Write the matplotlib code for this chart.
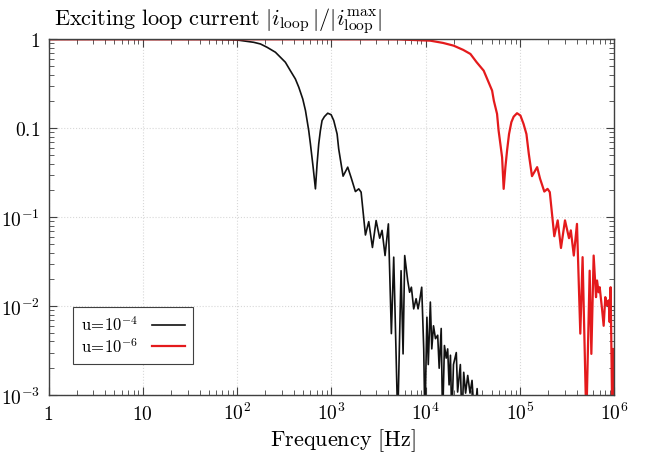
import matplotlib
matplotlib.use("Agg")
import matplotlib.pyplot as plt
from matplotlib.ticker import FixedLocator, FixedFormatter, LogLocator, NullFormatter

plt.rcParams['mathtext.fontset'] = 'cm'
plt.rcParams['font.family'] = 'DejaVu Serif'

# u = 1e-4 (black)
freq_b = [1, 10, 50, 100, 150, 177, 208, 255, 288, 325, 367, 415, 451, 497,
          531, 575, 599, 640, 677, 705, 734, 764, 796, 843, 914, 993, 1059,
          1150, 1195, 1330, 1490, 1630, 1797, 1950, 2066, 2296, 2489,
          2724, 2980, 3252, 3445, 3707, 4020, 4325, 4580, 5050, 5480, 5755,
          5990, 6440, 6750, 7050, 7460, 7910, 8300, 8630, 9070, 9530, 9800,
          10300, 10650, 11200, 11600, 12100, 12700, 13400, 13900, 14600,
          15100, 15800, 16500, 17100, 17700, 18300, 18900, 19700, 21100,
          21800, 23300, 24200, 25300, 26500, 27900, 29500, 31000, 33000,
          35100, 36500]
amp_b = [1, 1, 0.998, 0.982, 0.925, 0.886, 0.813, 0.715, 0.628, 0.552, 0.444,
         0.358, 0.289, 0.213, 0.158, 0.094, 0.0667, 0.0365, 0.0208, 0.0398,
         0.0667, 0.094, 0.122, 0.135, 0.1475, 0.142, 0.122, 0.086, 0.0585,
         0.0289, 0.0365, 0.0272, 0.0194, 0.0208, 0.0191, 0.0063, 0.0089,
         0.00456, 0.00916, 0.0058, 0.0071, 0.0037, 0.0084, 0.00049, 0.00355,
         5e-5, 0.0025, 0.00029, 0.0037, 0.00194, 0.00143, 0.00163, 0.00093,
         0.00121, 0.00093, 0.00116, 0.00163, 0.00033, 5e-5, 0.00075,
         0.00022, 0.00111, 0.00033, 0.0006, 0.00043, 0.00047, 0.0002,
         0.00056, 5e-5, 0.00036, 0.00026, 0.00033, 0.00013, 0.00028, 5e-5,
         0.00022, 0.0003, 0.000108, 0.00022, 5e-5, 0.00018, 0.000105,
         0.000166, 0.000105, 0.000146, 5e-5, 0.000118, 5e-5]

# u = 1e-6 (red)
freq_r = [1, 1000, 5000, 11200, 15300, 19800, 25000, 29800, 34700, 41200,
          44900, 50600, 52800, 57100, 59300, 61900, 64600, 67100, 70000,
          72900, 76500, 81000, 85700, 93000, 101000, 109000, 117000, 124000,
          134000, 152000, 163000, 181000, 196000, 207000, 231000, 251000,
          272000, 300000, 331000, 346000, 372000, 402000, 436000, 461000,
          505000, 548000, 571000, 604000, 640000, 656000, 682000, 700000,
          741000, 771000, 803000, 836000, 871000, 893000, 914000, 953000,
          969000, 1000000]
amp_r = [1, 1, 0.998, 0.965, 0.91, 0.848, 0.76, 0.684, 0.552, 0.444, 0.358,
         0.265, 0.204, 0.145, 0.094, 0.0667, 0.047, 0.0208, 0.0365, 0.056,
         0.086, 0.117, 0.135, 0.1475, 0.139, 0.112, 0.086, 0.0514, 0.0289,
         0.0365, 0.0272, 0.0194, 0.0208, 0.0191, 0.0061, 0.0092, 0.0045,
         0.0092, 0.0058, 0.0071, 0.0037, 0.0084, 0.00049, 0.00355, 5e-5,
         0.0025, 0.00029, 0.0037, 0.00126, 0.00194, 0.00143, 0.00163,
         0.00093, 0.0006, 0.00126, 0.00102, 0.00116, 0.00066, 0.00163, 5e-5,
         0.00033, 5e-5]

xticks = [1, 10, 1e2, 1e3, 1e4, 1e5, 1e6]
xlabels = ['$1$', '$10$', '$10^2$', '$10^3$', '$10^4$', '$10^5$', '$10^6$']
yticks = [1e-4, 1e-3, 1e-2, 1e-1, 1]
ylabels = ['$10^{-3}$', '$10^{-2}$', '$10^{-1}$', '$0.1$', '$1$']

fig = plt.figure(figsize=(6.56, 4.6), dpi=100)
ax = fig.add_axes([48.5 / 656, 1 - 396 / 460, (614.3 - 48.5) / 656, (396 - 40.3) / 460])

ax.plot(freq_b, amp_b, color='#111111', lw=1.2,
        label='$\\mathrm{u}\\!=\\!10^{-4}$')
ax.plot(freq_r, amp_r, color='#e41a1c', lw=1.6,
        label='$\\mathrm{u}\\!=\\!10^{-6}$')

ax.set_xscale('log')
ax.set_yscale('log')
ax.set_xlim(1, 1e6)
ax.set_ylim(1e-4, 1)

ax.xaxis.set_major_locator(FixedLocator(xticks))
ax.xaxis.set_major_formatter(FixedFormatter(xlabels))
ax.yaxis.set_major_locator(FixedLocator(yticks))
ax.yaxis.set_major_formatter(FixedFormatter(ylabels))
ax.xaxis.set_minor_locator(LogLocator(base=10, subs=range(2, 10), numticks=20))
ax.yaxis.set_minor_locator(LogLocator(base=10, subs=range(2, 10), numticks=20))
ax.xaxis.set_minor_formatter(NullFormatter())
ax.yaxis.set_minor_formatter(NullFormatter())

ax.tick_params(which='both', direction='in', top=True, right=True,
               color='#404040', labelsize=14)
ax.tick_params(which='major', length=6, width=0.8)
ax.tick_params(which='minor', length=3.5, width=0.6)
ax.tick_params(axis='x', pad=17)
ax.tick_params(axis='y', pad=6)
for lbl in ax.get_xticklabels():
    lbl.set_va('baseline')
for s in ax.spines.values():
    s.set_color('#404040')
    s.set_linewidth(1.0)

ax.grid(True, which='major', ls=':', color='#d8d8d8', lw=0.8)

leg = ax.legend(loc='lower left', bbox_to_anchor=(0.043, 0.087), fontsize=12,
                fancybox=False, framealpha=1, edgecolor='#404040',
                handlelength=2.0, borderpad=0.5, labelspacing=0.15,
                borderaxespad=0, handletextpad=0.8, markerfirst=False)
leg.get_frame().set_linewidth(0.8)

fig.text(54 / 656, 1 - 25 / 460,
         '$\\mathrm{Exciting\\ loop\\ current}\\ |i_{\\mathrm{loop}}\\,|/|i_{\\mathrm{loop}}^{\\mathrm{max}}|$',
         fontsize=16, ha='left', va='baseline')
fig.text(343 / 656, 1 - 446 / 460, '$\\mathrm{Frequency\\ [Hz]}$',
         fontsize=16, ha='center', va='baseline')

fig.savefig('out.png', dpi=100)
